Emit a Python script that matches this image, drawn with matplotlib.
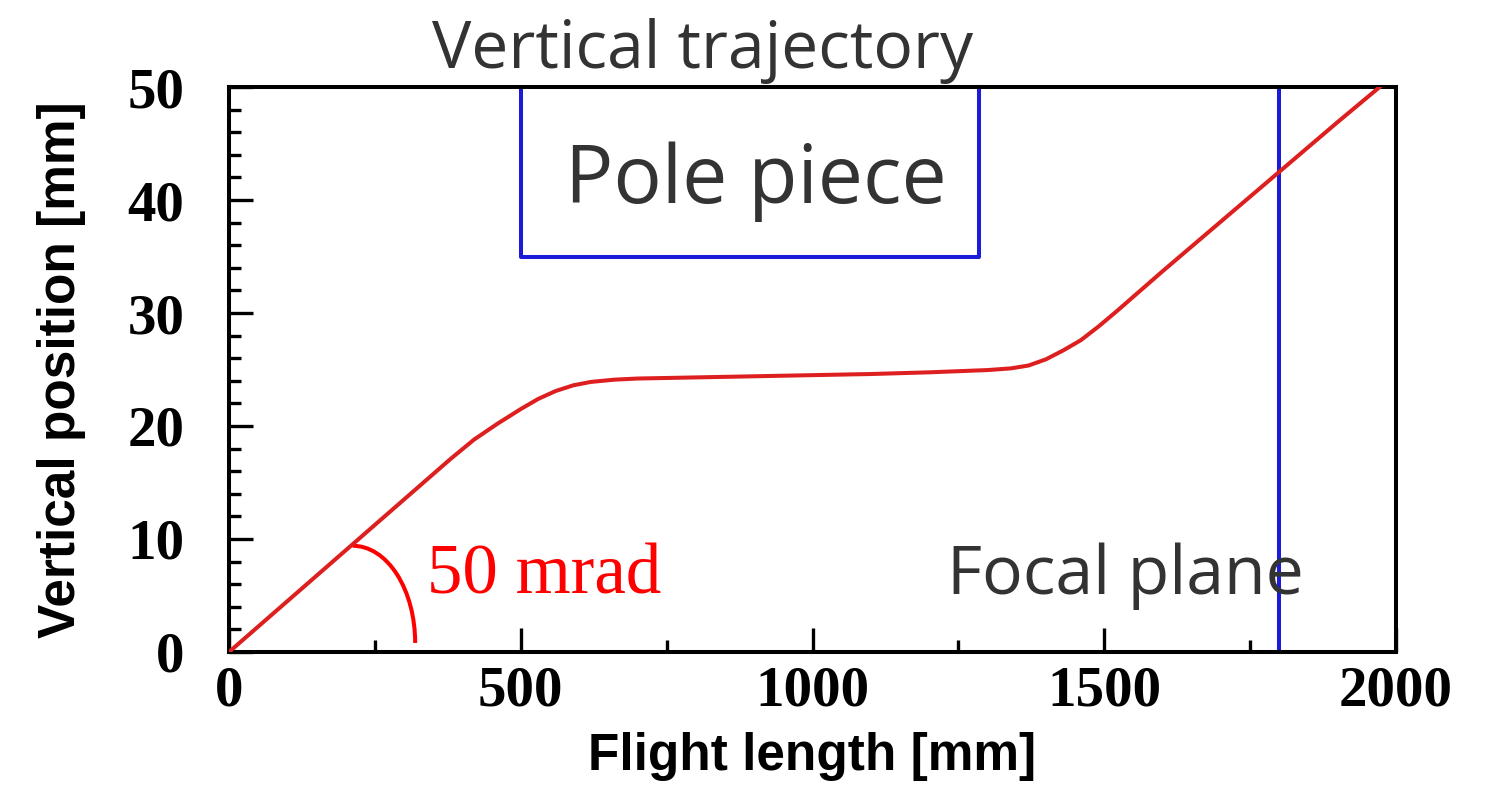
import matplotlib
matplotlib.use('Agg')
import matplotlib.pyplot as plt
from matplotlib.patches import Arc
from matplotlib.ticker import MultipleLocator

# trajectory read along the flight path
flight_mm = [0, 100, 200, 300, 380, 420, 460, 500, 530, 560, 590, 620, 660,
             700, 800, 900, 1000, 1100, 1200, 1300, 1340, 1370, 1400, 1430,
             1460, 1490, 1520, 1560, 1600, 1700, 1800, 1900, 1972]
vert_mm = [0, 4.5, 9.0, 13.5, 17.1, 18.8, 20.2, 21.5, 22.4, 23.1, 23.6, 23.9,
           24.1, 24.2, 24.3, 24.4, 24.5, 24.6, 24.75, 24.95, 25.1, 25.35, 25.9,
           26.7, 27.6, 28.8, 30.1, 31.9, 33.7, 38.1, 42.5, 46.9, 50.0]

pole_x = [500, 1285]
pole_y = 35
focal_x = 1800

TEXT_GRAY = '#333333'

fig = plt.figure(figsize=(14.95, 7.86), dpi=100)
ax = fig.add_axes([0.1532, 0.1705, 0.7806, 0.7188])

ax.plot(flight_mm, vert_mm, color='#dd1f1f', lw=2.9, zorder=3)

# pole piece outline and focal plane
ax.plot([pole_x[0], pole_x[0], pole_x[1], pole_x[1]], [50, pole_y, pole_y, 50],
        color='#1c1cd8', lw=2.9, clip_on=False)
ax.plot([focal_x, focal_x], [0, 50], color='#1c1cd8', lw=2.9)

# angle marker at the entrance
ax.add_patch(Arc((212, 0.8), 214, 17.2, theta1=0, theta2=90,
                 color='#ff0000', lw=2.9))
ax.text(340, 5.2, '50 mrad', color='#ff0000', fontsize=51,
        family='Liberation Serif', va='baseline')

ax.text(576, 39.7, 'Pole piece', color=TEXT_GRAY, fontsize=58,
        family='Open Sans', va='baseline')
ax.text(1230, 5.1, 'Focal plane', color=TEXT_GRAY, fontsize=49,
        family='Open Sans', va='baseline')
fig.text(432 / 1495, 1 - 68 / 786, 'Vertical trajectory', color=TEXT_GRAY,
         fontsize=47.5, family='Open Sans', va='baseline')

ax.set_xlim(0, 2000)
ax.set_ylim(0, 50)
ax.xaxis.set_major_locator(MultipleLocator(500))
ax.xaxis.set_minor_locator(MultipleLocator(250))
ax.yaxis.set_major_locator(MultipleLocator(10))
ax.yaxis.set_minor_locator(MultipleLocator(2))
ax.tick_params(which='both', direction='in', width=2.4, top=False, right=False)
ax.tick_params(which='major', length=17)
ax.tick_params(which='minor', length=8.5)
ax.tick_params(axis='x', pad=10)
ax.tick_params(axis='y', pad=32)
for lab in ax.get_xticklabels() + ax.get_yticklabels():
    lab.set_family('Liberation Serif')
    lab.set_fontweight('bold')
    lab.set_fontsize(41)
for sp in ax.spines.values():
    sp.set_linewidth(2.9)

ax.set_xlabel('Flight length [mm]', fontsize=37, fontweight='bold',
              family='Liberation Sans', labelpad=10)
ax.set_ylabel('Vertical position [mm]', fontsize=37, fontweight='bold',
              family='Liberation Sans', labelpad=30)

fig.savefig('out.png', dpi=100)
